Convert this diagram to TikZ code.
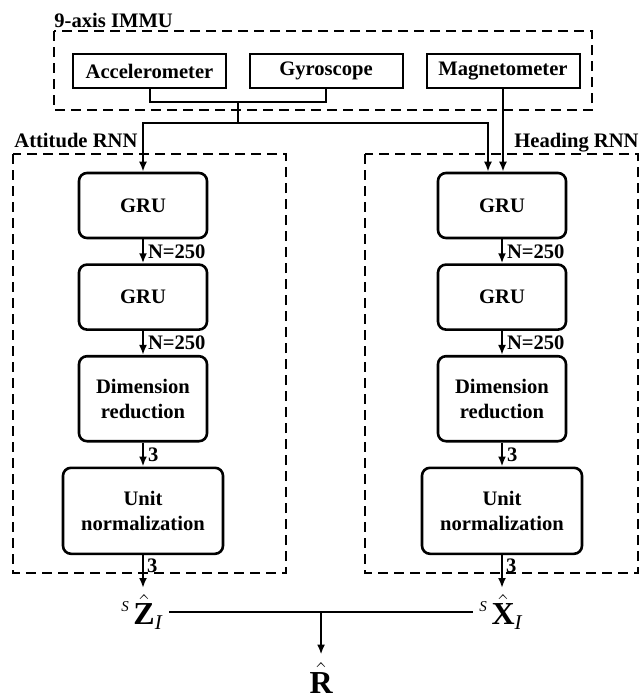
\documentclass[tikz,border=0pt]{standalone}
\usepackage{amsmath}
\usepackage{fontspec}
\setmainfont{Liberation Serif}
\usetikzlibrary{arrows.meta,positioning,calc}
\tikzstyle{layer} = [rectangle, rounded corners=4pt, minimum width=64pt, minimum height=32.5pt, text centered, align=center, draw, line width=1.3pt, font=\bfseries\fontsize{10.3}{12.5}\selectfont]
\tikzstyle{sensor} = [rectangle, minimum width=76.5pt, minimum height=17pt, text centered, draw, line width=1pt, font=\bfseries\fontsize{10.3}{12.5}\selectfont]
\tikzstyle{group} = [draw, dash pattern=on 5pt off 3pt, line width=1pt]
\tikzstyle{grouplabel} = [inner sep=0pt, font=\bfseries\fontsize{10.3}{12.5}\selectfont]
\tikzstyle{arrow} = [line width=1pt, -{Latex[length=5pt,width=4pt]}]
\tikzstyle{dimlabel} = [right, inner sep=2pt, font=\bfseries\fontsize{10.3}{12.5}\selectfont]
\tikzstyle{output} = [inner sep=3pt, font=\fontsize{16}{19}\selectfont]
\newcommand{\supS}{\mbox{\fontsize{7.5}{8}\selectfont\itshape S}\mkern3mu}
\newcommand{\subI}{\mbox{\fontsize{10.5}{11}\selectfont\itshape I}}

\begin{document}
\begin{tikzpicture}[x=0.5pt, y=-0.5pt, node distance=12pt]
\useasboundingbox (0,0) rectangle (639,697);

% 9-axis IMMU
\node (acc) [sensor] at (149.5,71) {Accelerometer};
\node (gyro) [sensor] at (326,71) {Gyroscope};
\node (mag) [sensor] at (503,71) {Magnetometer};
\draw[group] (54,31) rectangle (592,110);
\node (immulabel) [grouplabel, anchor=base west] at (54,27) {9-axis IMMU};

% Attitude RNN
\node (agru1) [layer] at (143,205.5) {GRU};
\node (agru2) [layer, below=of agru1] {GRU};
\node (ared) [layer, below=of agru2, minimum height=42.5pt] {Dimension\\reduction};
\node (anorm) [layer, below=of ared, minimum width=80pt, minimum height=43pt] {Unit\\normalization};
\draw[group] (13,154) rectangle (286,573);
\node (attlabel) [grouplabel, anchor=base west] at (14,147) {Attitude RNN};

% Heading RNN
\node (hgru1) [layer] at (502,205.5) {GRU};
\node (hgru2) [layer, below=of hgru1] {GRU};
\node (hred) [layer, below=of hgru2, minimum height=42.5pt] {Dimension\\reduction};
\node (hnorm) [layer, below=of hred, minimum width=80pt, minimum height=43pt] {Unit\\normalization};
\draw[group] (365,154) rectangle (638,573);
\node (headlabel) [grouplabel, anchor=base east] at (639,147) {Heading RNN};

% Sensor connections
\coordinate (imu) at (237.75,102);
\coordinate (split) at (237.75,123);
\draw[line width=1pt] (acc.south) |- (imu) -| (gyro.south);
\draw[line width=1pt] (imu) -- (split);
\draw[arrow] (split) -| (agru1.north);
\draw[arrow] (split) -| ([xshift=-7pt]hgru1.north);
\draw[arrow] (mag.south) -- (mag.south |- hgru1.north);

% Inner arrows
\draw[arrow] (agru1) -- node[dimlabel] {N=250} (agru2);
\draw[arrow] (agru2) -- node[dimlabel] {N=250} (ared);
\draw[arrow] (ared) -- node[dimlabel] {3} (anorm);
\draw[arrow] (hgru1) -- node[dimlabel] {N=250} (hgru2);
\draw[arrow] (hgru2) -- node[dimlabel] {N=250} (hred);
\draw[arrow] (hred) -- node[dimlabel] {3} (hnorm);

% Outputs
\node (zhat) [output, anchor=north] at (142,588) {$^{\supS}\hat{\textbf{Z}}_{\subI}$};
\node (xhat) [output, anchor=north] at (501,588) {$^{\supS}\hat{\textbf{X}}_{\subI}$};
\draw[arrow] (anorm) -- node[dimlabel, pos=0, anchor=north west, inner sep=1.5pt] {3} (anorm |- zhat.north);
\draw[arrow] (hnorm) -- node[dimlabel, pos=0, anchor=north west, inner sep=1.5pt] {3} (hnorm |- xhat.north);
\coordinate (join) at ($(zhat.east)!0.5!(xhat.west)$);
\node (rhat) [output, inner sep=4pt, anchor=base] at (join |- 0,693) {$\hat{\textbf{R}}$};
\draw[line width=1.3pt] (zhat.east) -- (xhat.west);
\draw[arrow] (join) -- (rhat.north);
\end{tikzpicture}
\end{document}
